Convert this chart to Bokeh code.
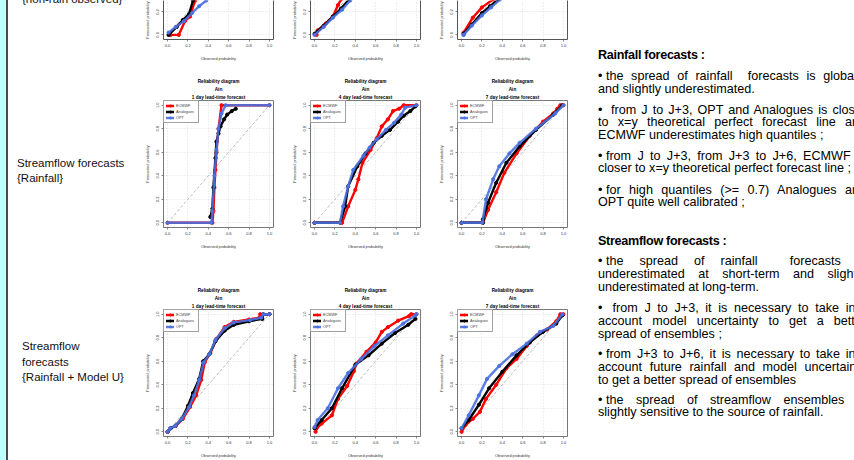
from bokeh.plotting import figure
from bokeh.layouts import row, column
from bokeh.models import Div, Range1d, Title, LinearAxis, Legend, LegendItem, PrintfTickFormatter, FixedTicker
from bokeh.embed import file_html
from bokeh.resources import INLINE

# ---------------- data ----------------
TICKS = [0.0, 0.2, 0.4, 0.6, 0.8, 1.0]
DIAG = [0.0, 1.0]
SERIES = ["ECMWF", "Analogues", "OPT"]
LEADS = ["1 day lead-time forecast", "4 day lead-time forecast", "7 day lead-time forecast"]
TITLE1 = "Reliability diagram"
TITLE2 = "Ain"
XLAB = "Observed probability"
YLAB = "Forecasted probability"

# Rainfall forecasts (top row, only lower part visible)
rain_d1_ecmwf_x = [0.03, 0.11, 0.17, 0.22, 0.27, 0.35, 0.50, 0.70, 1.00]
rain_d1_ecmwf_y = [0.00, 0.00, 0.12, 0.16, 0.30, 0.50, 0.75, 0.90, 1.00]
rain_d1_analog_x = [0.01, 0.09, 0.15, 0.21, 0.25, 0.35, 0.50, 0.70, 1.00]
rain_d1_analog_y = [0.00, 0.07, 0.13, 0.18, 0.30, 0.50, 0.72, 0.88, 1.00]
rain_d1_opt_x = [0.01, 0.08, 0.16, 0.24, 0.31, 0.38, 0.50, 0.70, 1.00]
rain_d1_opt_y = [0.02, 0.07, 0.12, 0.19, 0.25, 0.30, 0.45, 0.70, 1.00]

rain_d4_ecmwf_x = [0.02, 0.03, 0.11, 0.18, 0.23, 0.26, 0.40, 0.60, 0.80, 1.00]
rain_d4_ecmwf_y = [0.00, 0.04, 0.10, 0.16, 0.26, 0.31, 0.50, 0.75, 0.90, 1.00]
rain_d4_analog_x = [0.00, 0.09, 0.18, 0.26, 0.34, 0.50, 0.70, 1.00]
rain_d4_analog_y = [0.01, 0.08, 0.16, 0.23, 0.31, 0.50, 0.75, 1.00]
rain_d4_opt_x = [0.00, 0.09, 0.18, 0.27, 0.35, 0.50, 0.70, 1.00]
rain_d4_opt_y = [0.00, 0.07, 0.15, 0.22, 0.30, 0.48, 0.72, 1.00]

rain_d7_ecmwf_x = [0.02, 0.11, 0.20, 0.31, 0.45, 0.65, 0.85, 1.00]
rain_d7_ecmwf_y = [0.02, 0.15, 0.24, 0.31, 0.50, 0.72, 0.90, 1.00]
rain_d7_analog_x = [0.02, 0.10, 0.20, 0.28, 0.36, 0.50, 0.70, 1.00]
rain_d7_analog_y = [0.01, 0.09, 0.19, 0.25, 0.31, 0.48, 0.72, 1.00]
rain_d7_opt_x = [0.02, 0.02, 0.10, 0.20, 0.29, 0.38, 0.55, 0.75, 1.00]
rain_d7_opt_y = [0.00, 0.00, 0.08, 0.17, 0.24, 0.31, 0.50, 0.75, 1.00]

# Streamflow forecasts {Rainfall} (middle row)
flow_d1_ecmwf_x = [0.00, 0.44, 0.45, 0.46, 0.47, 0.48, 0.50, 0.53, 1.00]
flow_d1_ecmwf_y = [0.00, 0.00, 0.10, 0.30, 0.45, 0.60, 0.80, 1.00, 1.00]
flow_d1_analog_x = [0.42, 0.44, 0.45, 0.47, 0.48, 0.50, 0.52, 0.555, 0.585, 0.63, 0.67]
flow_d1_analog_y = [0.05, 0.12, 0.30, 0.55, 0.69, 0.76, 0.82, 0.88, 0.92, 0.95, 0.97]
flow_d1_opt_x = [0.00, 0.43, 0.44, 0.46, 0.48, 0.50, 0.53, 0.57, 1.00]
flow_d1_opt_y = [0.00, 0.00, 0.10, 0.40, 0.62, 0.80, 0.93, 1.00, 1.00]

flow_d4_ecmwf_x = [0.00, 0.27, 0.33, 0.40, 0.43, 0.47, 0.55, 0.61, 0.66, 0.72, 0.77, 0.83, 0.875, 1.00]
flow_d4_ecmwf_y = [0.00, 0.00, 0.14, 0.28, 0.37, 0.51, 0.62, 0.72, 0.82, 0.88, 0.95, 0.97, 1.00, 1.00]
flow_d4_analog_x = [0.00, 0.25, 0.30, 0.33, 0.42, 0.50, 0.58, 0.66, 0.74, 0.82, 0.875, 0.94, 0.99]
flow_d4_analog_y = [0.00, 0.00, 0.14, 0.31, 0.48, 0.59, 0.68, 0.74, 0.79, 0.86, 0.91, 0.95, 0.99]
flow_d4_opt_x = [0.00, 0.25, 0.28, 0.33, 0.38, 0.48, 0.54, 0.61, 0.70, 0.78, 0.85, 0.89, 1.00]
flow_d4_opt_y = [0.00, 0.00, 0.14, 0.31, 0.45, 0.57, 0.64, 0.71, 0.79, 0.85, 0.92, 0.98, 1.00]

flow_d7_ecmwf_x = [0.00, 0.21, 0.26, 0.34, 0.42, 0.54, 0.67, 0.80, 0.90, 0.94, 0.97, 1.00]
flow_d7_ecmwf_y = [0.00, 0.00, 0.11, 0.26, 0.425, 0.59, 0.74, 0.86, 0.93, 0.97, 1.00, 1.00]
flow_d7_analog_x = [0.00, 0.21, 0.21, 0.26, 0.34, 0.44, 0.57, 0.73, 0.90, 0.99]
flow_d7_analog_y = [0.00, 0.00, 0.03, 0.17, 0.34, 0.51, 0.65, 0.79, 0.92, 1.00]
flow_d7_opt_x = [0.00, 0.205, 0.24, 0.31, 0.37, 0.47, 0.57, 0.73, 0.92, 1.00]
flow_d7_opt_y = [0.00, 0.00, 0.20, 0.37, 0.48, 0.59, 0.68, 0.80, 0.93, 1.00]

# Streamflow forecasts {Rainfall + Model U} (bottom row)
flowu_d1_ecmwf_x = [0.00, 0.03, 0.08, 0.15, 0.22, 0.28, 0.33, 0.365, 0.42, 0.48, 0.56, 0.65, 0.80, 0.90, 0.91, 1.00]
flowu_d1_ecmwf_y = [0.00, 0.03, 0.05, 0.11, 0.21, 0.31, 0.44, 0.59, 0.67, 0.79, 0.89, 0.935, 0.955, 0.97, 1.00, 1.00]
flowu_d1_analog_x = [0.00, 0.03, 0.075, 0.14, 0.20, 0.25, 0.31, 0.35, 0.41, 0.47, 0.56, 0.65, 0.80, 0.93, 0.94, 1.00]
flowu_d1_analog_y = [0.00, 0.03, 0.05, 0.11, 0.22, 0.33, 0.45, 0.60, 0.66, 0.77, 0.86, 0.91, 0.94, 0.96, 1.00, 1.00]
flowu_d1_opt_x = [0.00, 0.026, 0.075, 0.14, 0.21, 0.26, 0.31, 0.355, 0.41, 0.47, 0.56, 0.65, 0.81, 0.92, 0.94, 1.00]
flowu_d1_opt_y = [0.00, 0.03, 0.05, 0.11, 0.21, 0.31, 0.44, 0.59, 0.66, 0.78, 0.88, 0.93, 0.95, 0.97, 1.00, 1.00]

flowu_d4_ecmwf_x = [0.01, 0.02, 0.07, 0.17, 0.23, 0.32, 0.386, 0.41, 0.51, 0.60, 0.66, 0.72, 0.82, 0.93, 0.95, 1.00]
flowu_d4_ecmwf_y = [0.00, 0.03, 0.07, 0.14, 0.28, 0.39, 0.515, 0.58, 0.68, 0.76, 0.85, 0.89, 0.945, 0.985, 1.00, 1.00]
flowu_d4_analog_x = [0.00, 0.07, 0.17, 0.27, 0.40, 0.53, 0.66, 0.79, 0.92, 0.99]
flowu_d4_analog_y = [0.03, 0.10, 0.20, 0.37, 0.57, 0.65, 0.75, 0.84, 0.91, 0.96]
flowu_d4_opt_x = [0.00, 0.03, 0.13, 0.23, 0.33, 0.46, 0.59, 0.72, 0.87, 0.99, 1.00]
flowu_d4_opt_y = [0.04, 0.10, 0.20, 0.37, 0.50, 0.62, 0.73, 0.82, 0.92, 0.99, 1.00]

flowu_d7_ecmwf_x = [0.00, 0.04, 0.11, 0.18, 0.24, 0.34, 0.44, 0.54, 0.64, 0.74, 0.84, 0.93, 0.97, 1.00]
flowu_d7_ecmwf_y = [0.00, 0.06, 0.11, 0.17, 0.28, 0.40, 0.54, 0.62, 0.73, 0.82, 0.87, 0.94, 1.00, 1.00]
flowu_d7_analog_x = [0.00, 0.07, 0.17, 0.27, 0.40, 0.54, 0.67, 0.80, 0.93, 0.99]
flowu_d7_analog_y = [0.03, 0.10, 0.23, 0.37, 0.51, 0.65, 0.76, 0.85, 0.92, 0.99]
flowu_d7_opt_x = [0.00, 0.07, 0.17, 0.25, 0.37, 0.50, 0.64, 0.77, 0.90, 0.99]
flowu_d7_opt_y = [0.03, 0.14, 0.31, 0.45, 0.56, 0.66, 0.75, 0.85, 0.90, 1.00]

LEFT_LABELS_TOP = "{non-rain observed}"
LEFT_LABELS_MID = ["Streamflow forecasts", "{Rainfall}"]
LEFT_LABELS_BOT = ["Streamflow", "forecasts", "{Rainfall + Model U}"]

# bullet paragraphs: (bullet gap, first line, continuation lines...)
RAIN_HEAD = "Rainfall forecasts :"
RAIN_PARAS = [
    ["the spread of rainfall&nbsp; forecasts is globally", "and slightly underestimated."],
    ["&nbsp;from J to J+3, OPT and Analogues is closer", "to x=y theoretical perfect forecast line and",
     "ECMWF underestimates high quantiles ;"],
    ["from J to J+3, from J+3 to J+6, ECMWF is", "closer to x=y theoretical perfect forecast line ;"],
    ["for high quantiles (&gt;= 0.7) Analogues and", "OPT quite well calibrated ;"],
]
FLOW_HEAD = "Streamflow forecasts :"
FLOW_PARAS = [
    ["the spread of rainfall&nbsp; forecasts is", "underestimated at short-term and slightly",
     "underestimated at long-term."],
    ["&nbsp;from J to J+3, it is necessary to take into", "account model uncertainty to get a better",
     "spread of ensembles ;"],
    ["from J+3 to J+6, it is necessary to take into", "account future rainfall and model uncertainty",
     "to get a better spread of ensembles"],
    ["the spread of streamflow ensembles is", "slightly sensitive to the source of rainfall."],
]

# ---------------- styling ----------------
FONT = "Liberation Sans"
COLORS = ["#FF0000", "#000000", "#4A70E0"]
ALPHAS = [1.0, 1.0, 0.9]

PANELS = {
    "top": [
        [(rain_d1_ecmwf_x, rain_d1_ecmwf_y), (rain_d1_analog_x, rain_d1_analog_y), (rain_d1_opt_x, rain_d1_opt_y)],
        [(rain_d4_ecmwf_x, rain_d4_ecmwf_y), (rain_d4_analog_x, rain_d4_analog_y), (rain_d4_opt_x, rain_d4_opt_y)],
        [(rain_d7_ecmwf_x, rain_d7_ecmwf_y), (rain_d7_analog_x, rain_d7_analog_y), (rain_d7_opt_x, rain_d7_opt_y)],
    ],
    "mid": [
        [(flow_d1_ecmwf_x, flow_d1_ecmwf_y), (flow_d1_analog_x, flow_d1_analog_y), (flow_d1_opt_x, flow_d1_opt_y)],
        [(flow_d4_ecmwf_x, flow_d4_ecmwf_y), (flow_d4_analog_x, flow_d4_analog_y), (flow_d4_opt_x, flow_d4_opt_y)],
        [(flow_d7_ecmwf_x, flow_d7_ecmwf_y), (flow_d7_analog_x, flow_d7_analog_y), (flow_d7_opt_x, flow_d7_opt_y)],
    ],
    "bot": [
        [(flowu_d1_ecmwf_x, flowu_d1_ecmwf_y), (flowu_d1_analog_x, flowu_d1_analog_y), (flowu_d1_opt_x, flowu_d1_opt_y)],
        [(flowu_d4_ecmwf_x, flowu_d4_ecmwf_y), (flowu_d4_analog_x, flowu_d4_analog_y), (flowu_d4_opt_x, flowu_d4_opt_y)],
        [(flowu_d7_ecmwf_x, flowu_d7_ecmwf_y), (flowu_d7_analog_x, flowu_d7_analog_y), (flowu_d7_opt_x, flowu_d7_opt_y)],
    ],
}

ROWGEOM = {  # height, top border, bottom border, y range
    "top": (66, 0, 27, (-0.04, 0.30)),
    "mid": (188, 34, 27, (-0.04, 1.04)),
    "bot": (206, 55, 24, (-0.04, 1.04)),
}


def style_axis(ax):
    ax.ticker = FixedTicker(ticks=TICKS)
    ax.formatter = PrintfTickFormatter(format="%.1f")
    ax.axis_line_color = None
    ax.major_tick_line_color = "#555555"
    ax.major_tick_line_width = 0.7
    ax.major_tick_out = 2
    ax.major_tick_in = 0
    ax.minor_tick_line_color = None
    ax.major_label_text_font = FONT
    ax.major_label_text_font_size = "4px"
    ax.major_label_text_color = "#333333"
    ax.major_label_standoff = 2
    ax.axis_label_text_font = FONT
    ax.axis_label_text_font_size = "3.8px"
    ax.axis_label_text_font_style = "normal"
    ax.axis_label_text_color = "#333333"


def make_panel(kind, col):
    h, bt, bb, yr = ROWGEOM[kind]
    p = figure(width=147, height=h, x_range=Range1d(-0.04, 1.04), y_range=Range1d(*yr),
               output_backend="svg", toolbar_location=None, title=None,
               min_border_left=25, min_border_right=12, min_border_top=bt, min_border_bottom=bb,
               background_fill_color="white", border_fill_color="white")
    style_axis(p.xaxis[0])
    style_axis(p.yaxis[0])
    p.xaxis.axis_label = XLAB
    p.yaxis.axis_label = YLAB
    p.xaxis.axis_label_standoff = 7
    p.yaxis.axis_label_standoff = 4
    p.yaxis.major_label_orientation = "vertical"
    p.xgrid.ticker = p.xaxis[0].ticker
    p.ygrid.ticker = p.yaxis[0].ticker
    p.grid.grid_line_color = "#D3D3D3"
    p.grid.grid_line_dash = "1 2"
    p.grid.grid_line_width = 0.7

    if kind == "top":
        p.outline_line_color = None
        p.xaxis.axis_line_color = "#555555"
        p.yaxis.axis_line_color = "#555555"
        p.add_layout(LinearAxis(ticker=FixedTicker(ticks=[]), axis_line_color="#555555",
                                major_tick_line_color=None, minor_tick_line_color=None), "right")
    else:
        p.outline_line_color = "#555555"
        p.outline_line_width = 0.8
        for txt in [LEADS[col], TITLE2, TITLE1]:
            p.add_layout(Title(text=txt, align="center", text_font=FONT, text_font_size="4.7px",
                               text_font_style="bold", text_color="black", standoff=0.6), "above")

    p.line(DIAG, DIAG, line_color="#A8A8A8", line_dash="3 2", line_width=0.8)

    items = []
    for (xs, ys), name, c, a in zip(PANELS[kind][col], SERIES, COLORS, ALPHAS):
        r1 = p.line(xs, ys, line_color=c, line_width=2.4, line_alpha=a, line_join="round", line_cap="round")
        r2 = p.scatter(xs, ys, marker="circle", size=3.2, fill_color=c, line_color=c,
                       fill_alpha=a, line_alpha=a)
        items.append(LegendItem(label=name, renderers=[r1, r2]))
    if kind != "top":
        leg = Legend(items=items, location="top_left", margin=0, padding=2, spacing=1,
                     label_text_font=FONT, label_text_font_size="3.8px", label_height=5,
                     glyph_height=5, glyph_width=8, label_standoff=2,
                     border_line_color="#444444", border_line_width=0.8,
                     background_fill_color="white", background_fill_alpha=1.0)
        p.add_layout(leg)
    return p


rows = []
for kind in ["top", "mid", "bot"]:
    rows.append(row(*[make_panel(kind, c) for c in range(3)], spacing=0))
grid = column(*rows, spacing=0)

# ---------------- left labels ----------------
lab_style = "position:absolute;font-family:'Liberation Sans',Arial,sans-serif;font-size:11.5px;color:#111;white-space:nowrap;"
left_html = (
    '<div style="position:relative;width:138px;height:460px;overflow:hidden;background:white;">'
    '<div style="position:absolute;left:0;top:0;width:6px;height:460px;background:#C4FFFF;"></div>'
    '<div style="position:absolute;left:6px;top:0;width:1.5px;height:460px;background:#4a4a4a;"></div>'
    f'<div style="{lab_style}left:22px;top:-8px;line-height:15px;">{LEFT_LABELS_TOP}</div>'
    f'<div style="{lab_style}left:17px;top:155.5px;line-height:15px;">' + "<br>".join(LEFT_LABELS_MID) + '</div>'
    f'<div style="{lab_style}left:22px;top:339px;line-height:15.5px;">' + "<br>".join(LEFT_LABELS_BOT) + '</div>'
    '</div>'
)
left = Div(text=left_html, width=138, height=460, margin=0)

# ---------------- right text ----------------
LH = 12.9
txt_style = "font-family:'Liberation Sans',Arial,sans-serif;font-size:12.6px;color:#000;"


def para_html(center, lines):
    top = center - LH / 2
    out = f'<div style="position:absolute;left:19px;top:{top:.1f}px;width:268px;{txt_style}line-height:{LH}px;">'
    for i, ln in enumerate(lines):
        if i == 0:
            ln = '<span style="display:inline-block;">\u2022&nbsp;</span>' + ln
        if i < len(lines) - 1:
            al = "text-align:justify;text-align-last:justify;"
        else:
            al = "text-align:left;white-space:nowrap;"
        out += f'<div style="{al}height:{LH}px;">{ln}</div>'
    return out + '</div>'


def head_html(center, text):
    top = center - LH / 2
    return (f'<div style="position:absolute;left:19px;top:{top:.1f}px;{txt_style}font-weight:bold;'
            f'letter-spacing:-0.3px;line-height:{LH}px;white-space:nowrap;">{text}</div>')


right_parts = ['<div style="position:relative;width:275px;height:460px;overflow:hidden;background:white;">']
right_parts.append(head_html(55, RAIN_HEAD))
for c, lines in zip([76.7, 110, 156, 190], RAIN_PARAS):
    right_parts.append(para_html(c, lines))
right_parts.append(head_html(241.7, FLOW_HEAD))
for c, lines in zip([261.7, 308.3, 354.3, 400], FLOW_PARAS):
    right_parts.append(para_html(c, lines))
right_parts.append('</div>')
right = Div(text="".join(right_parts), width=275, height=460, margin=0)

root = row(left, grid, right, spacing=0,
           styles={"position": "absolute", "left": "0px", "top": "0px", "background": "white"})

open("out.html", "w").write(file_html(root, INLINE))
